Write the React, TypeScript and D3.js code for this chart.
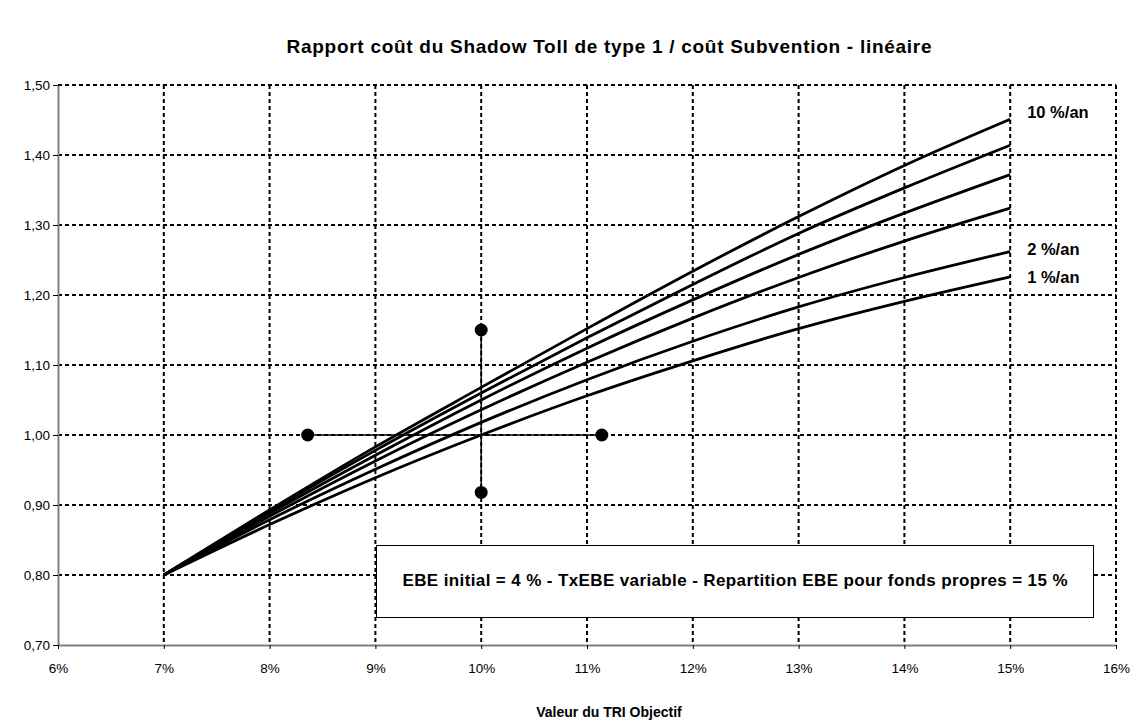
import React, { useEffect, useRef } from 'react';
import * as d3 from 'd3';

// TRI objectif (%) at which the curves are read
const triValues = [7, 8, 9, 10, 11, 12, 13, 14, 15];

// Rapport coût, one array per growth rate of EBE (bottom to top)
const serie1 = [0.8, 0.872, 0.939, 1.0, 1.056, 1.106, 1.152, 1.191, 1.226];
const serie2 = [0.8, 0.879, 0.951, 1.018, 1.079, 1.134, 1.183, 1.225, 1.262];
const serie3 = [0.8, 0.884, 0.963, 1.036, 1.104, 1.167, 1.225, 1.277, 1.324];
const serie4 = [0.8, 0.888, 0.971, 1.05, 1.124, 1.193, 1.258, 1.317, 1.372];
const serie5 = [0.8, 0.891, 0.978, 1.06, 1.139, 1.215, 1.288, 1.353, 1.414];
const serie6 = [0.8, 0.893, 0.983, 1.068, 1.152, 1.234, 1.312, 1.385, 1.451];
const allSeries = [serie1, serie2, serie3, serie4, serie5, serie6];

// end labels: [series index, text]
const endLabels: [number, string][] = [
  [5, '10 %/an'],
  [1, '2 %/an'],
  [0, '1 %/an'],
];

// cross markers around (10 %, 1,00)
const crossH = [8.36, 11.14];
const crossV = [0.918, 1.15];
const crossCenter = [10, 1.0];

const xTicks = [6, 7, 8, 9, 10, 11, 12, 13, 14, 15, 16];
const yTicks = [0.7, 0.8, 0.9, 1.0, 1.1, 1.2, 1.3, 1.4, 1.5];

const title = 'Rapport coût du Shadow Toll de type 1 / coût Subvention - linéaire';
const xTitle = 'Valeur du TRI Objectif';
const boxText = 'EBE initial = 4 % - TxEBE variable - Repartition EBE pour fonds propres = 15 %';

const App: React.FC = () => {
  const ref = useRef<SVGSVGElement>(null);

  useEffect(() => {
    const width = 1136;
    const height = 720;
    const left = 58, right = 1116, top = 85, bottom = 645;
    const font = 'Arial, "Liberation Sans", sans-serif';

    const svg = d3.select(ref.current).attr('width', width).attr('height', height);
    svg.selectAll('*').remove();

    const x = d3.scaleLinear().domain([6, 16]).range([left, right]);
    const y = d3.scaleLinear().domain([0.7, 1.5]).range([bottom, top]);

    svg.append('rect').attr('width', width).attr('height', height).attr('fill', '#fff');

    // dotted grid
    const grid = svg.append('g').attr('stroke', '#000').attr('stroke-width', 2).attr('stroke-dasharray', '4,3');
    yTicks.filter(v => v > 0.7).forEach(v => {
      grid.append('line').attr('x1', left).attr('x2', right).attr('y1', y(v)).attr('y2', y(v));
    });
    xTicks.filter(v => v > 6).forEach(v => {
      grid.append('line').attr('x1', x(v)).attr('x2', x(v)).attr('y1', top).attr('y2', bottom);
    });

    // axes
    const yAxis = svg.append('g')
      .attr('transform', `translate(${left},0)`)
      .call(d3.axisLeft(y).tickValues(yTicks).tickSize(5).tickSizeOuter(0)
        .tickFormat(d => d3.format('.2f')(d as number).replace('.', ',')));
    const xAxis = svg.append('g')
      .attr('transform', `translate(0,${bottom})`)
      .call(d3.axisBottom(x).tickValues(xTicks).tickSize(4).tickSizeOuter(0)
        .tickFormat(d => `${d}%`));
    [xAxis, yAxis].forEach(ax => {
      ax.select('.domain').attr('stroke', '#808080').attr('stroke-width', 2);
      ax.selectAll('.tick line').attr('stroke', '#000').attr('stroke-width', 1);
      ax.selectAll('text').attr('font-family', font).attr('font-size', 13.5).attr('fill', '#000');
    });
    yAxis.selectAll('text').attr('x', -8);
    xAxis.selectAll('text').attr('y', 18);

    // curves
    const line = d3.line<number>()
      .x((_, i) => x(triValues[i]))
      .y(d => y(d))
      .curve(d3.curveMonotoneX);
    svg.append('g').selectAll('path').data(allSeries).enter().append('path')
      .attr('d', d => line(d))
      .attr('fill', 'none')
      .attr('stroke', '#000')
      .attr('stroke-width', 2.8);

    // cross
    const cross = svg.append('g');
    cross.append('line')
      .attr('x1', x(crossH[0])).attr('x2', x(crossH[1]))
      .attr('y1', y(crossCenter[1])).attr('y2', y(crossCenter[1]))
      .attr('stroke', '#000').attr('stroke-width', 1.5);
    cross.append('line')
      .attr('x1', x(crossCenter[0])).attr('x2', x(crossCenter[0]))
      .attr('y1', y(crossV[0])).attr('y2', y(crossV[1]))
      .attr('stroke', '#000').attr('stroke-width', 1.5);
    const pts: [number, number][] = [
      [crossH[0], crossCenter[1]], [crossH[1], crossCenter[1]],
      [crossCenter[0], crossV[0]], [crossCenter[0], crossV[1]],
    ];
    cross.selectAll('circle').data(pts).enter().append('circle')
      .attr('cx', d => x(d[0])).attr('cy', d => y(d[1])).attr('r', 6.5).attr('fill', '#000');

    // end labels
    svg.append('g').selectAll('text').data(endLabels).enter().append('text')
      .attr('x', x(15) + 17)
      .attr('y', d => y(allSeries[d[0]][8]) + (d[0] === 5 ? -1 : d[0] === 1 ? 3 : 6))
      .attr('font-family', font).attr('font-size', 16.5).attr('font-weight', 'bold')
      .text(d => d[1]);

    // note box
    svg.append('rect')
      .attr('x', 376.5).attr('y', 545.5).attr('width', 717).attr('height', 72)
      .attr('fill', '#fff').attr('stroke', '#000').attr('stroke-width', 1);
    svg.append('text')
      .attr('x', 735).attr('y', 586).attr('text-anchor', 'middle')
      .attr('font-family', font).attr('font-size', 17).attr('font-weight', 'bold')
      .attr('textLength', 665).attr('lengthAdjust', 'spacing')
      .text(boxText);

    // titles
    svg.append('text')
      .attr('x', 609).attr('y', 53).attr('text-anchor', 'middle')
      .attr('font-family', font).attr('font-size', 19).attr('font-weight', 'bold')
      .attr('textLength', 645).attr('lengthAdjust', 'spacing')
      .text(title);
    svg.append('text')
      .attr('x', 609).attr('y', 717).attr('text-anchor', 'middle')
      .attr('font-family', font).attr('font-size', 14).attr('font-weight', 'bold')
      .text(xTitle);
  }, []);

  return (
    <div style={{ position: 'absolute', left: 0, top: 0 }}>
      <svg ref={ref}></svg>
    </div>
  );
};

export default App;
